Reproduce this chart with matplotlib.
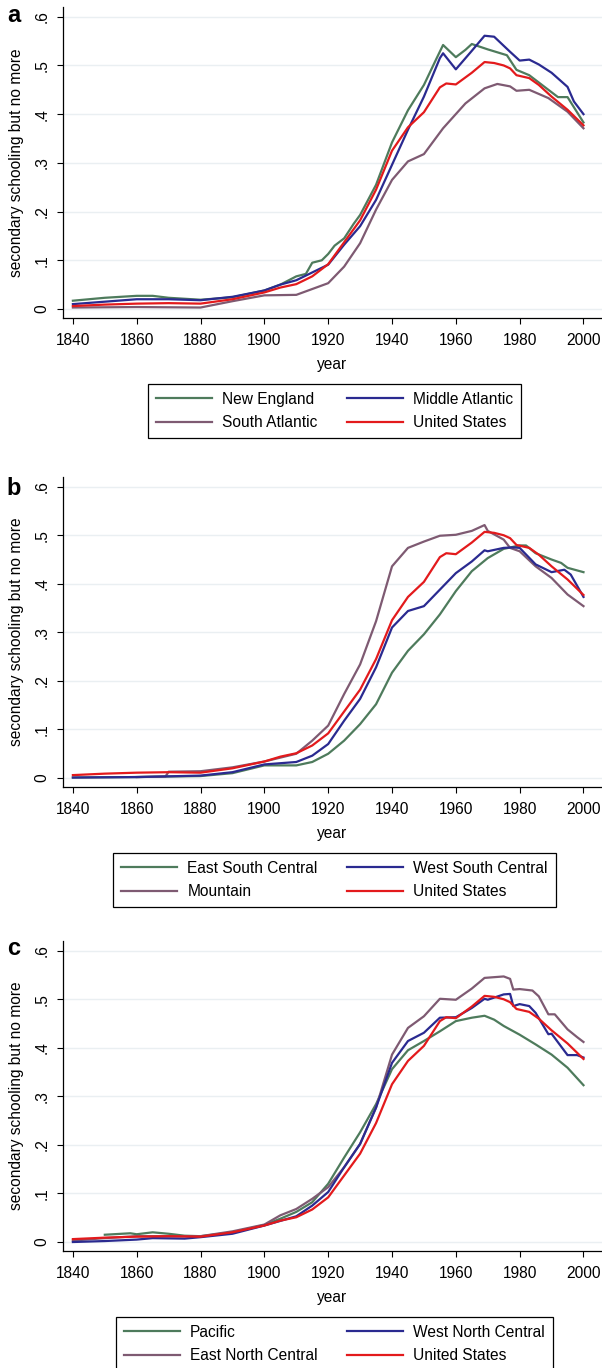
import matplotlib.pyplot as plt

plt.rcParams['font.family'] = ['Liberation Sans', 'DejaVu Sans']

# Colours of the four lines in every panel
green = '#4e7b5c'
blue = '#2a2a90'
purple = '#7e5a72'
red = '#e31a1c'

# United States (shown in all three panels)
us_years = [1840, 1850, 1860, 1870, 1880, 1890, 1900, 1905, 1910, 1915, 1920, 1925, 1930, 1935,
            1940, 1945, 1950, 1955, 1957, 1960, 1965, 1969, 1972, 1975, 1977, 1979, 1983, 1986,
            1990, 1995, 2000]
us_vals = [0.006, 0.009, 0.011, 0.012, 0.011, 0.020, 0.034, 0.044, 0.051, 0.067, 0.092, 0.137,
           0.182, 0.245, 0.325, 0.373, 0.404, 0.455, 0.463, 0.461, 0.485, 0.507, 0.505, 0.500,
           0.494, 0.480, 0.474, 0.460, 0.436, 0.409, 0.377]

# Panel a
ne_years = [1840, 1850, 1860, 1865, 1870, 1880, 1890, 1900, 1905, 1910, 1913, 1915, 1918, 1920,
            1922, 1925, 1928, 1930, 1935, 1940, 1945, 1950, 1954, 1956, 1960, 1963, 1965, 1970,
            1976, 1979, 1983, 1985, 1989, 1992, 1995, 2000]
ne_vals = [0.017, 0.023, 0.027, 0.027, 0.023, 0.019, 0.024, 0.038, 0.050, 0.067, 0.072, 0.095,
           0.100, 0.113, 0.130, 0.145, 0.175, 0.193, 0.255, 0.342, 0.408, 0.460, 0.515, 0.542,
           0.517, 0.532, 0.544, 0.533, 0.521, 0.491, 0.480, 0.470, 0.450, 0.435, 0.435, 0.383]

ma_years = [1840, 1860, 1870, 1880, 1890, 1900, 1905, 1910, 1915, 1920, 1925, 1930, 1935, 1940,
            1945, 1950, 1955, 1956, 1960, 1965, 1969, 1972, 1977, 1980, 1983, 1986, 1990, 1995,
            1997, 2000]
ma_vals = [0.010, 0.020, 0.020, 0.018, 0.025, 0.038, 0.050, 0.059, 0.075, 0.091, 0.132, 0.170,
           0.224, 0.296, 0.368, 0.436, 0.515, 0.525, 0.492, 0.530, 0.561, 0.559, 0.528, 0.510,
           0.512, 0.502, 0.485, 0.456, 0.426, 0.400]

sa_years = [1840, 1860, 1880, 1890, 1900, 1910, 1915, 1920, 1925, 1930, 1935, 1940, 1945, 1950,
            1956, 1963, 1969, 1973, 1977, 1979, 1983, 1989, 1995, 2000]
sa_vals = [0.003, 0.004, 0.003, 0.016, 0.028, 0.029, 0.041, 0.053, 0.087, 0.135, 0.204, 0.265,
           0.303, 0.318, 0.371, 0.422, 0.453, 0.462, 0.457, 0.448, 0.450, 0.433, 0.405, 0.371]

# Panel b
esc_years = [1840, 1860, 1880, 1890, 1900, 1910, 1915, 1920, 1925, 1930, 1935, 1940, 1945, 1950,
             1955, 1960, 1965, 1970, 1975, 1980, 1982, 1985, 1990, 1993, 1995, 2000]
esc_vals = [0.001, 0.002, 0.004, 0.010, 0.026, 0.026, 0.033, 0.050, 0.077, 0.111, 0.152, 0.217,
            0.262, 0.296, 0.337, 0.385, 0.426, 0.453, 0.472, 0.479, 0.479, 0.463, 0.450, 0.443,
            0.433, 0.424]

wsc_years = [1840, 1860, 1880, 1890, 1900, 1910, 1915, 1920, 1925, 1930, 1935, 1940, 1945, 1950,
             1955, 1960, 1965, 1969, 1970, 1975, 1978, 1980, 1985, 1990, 1994, 1996, 2000]
wsc_vals = [0.001, 0.002, 0.005, 0.012, 0.028, 0.033, 0.046, 0.070, 0.118, 0.163, 0.228, 0.310,
            0.344, 0.354, 0.388, 0.422, 0.446, 0.469, 0.467, 0.474, 0.475, 0.474, 0.440, 0.424,
            0.429, 0.419, 0.373]

mtn_years = [1860, 1869, 1870, 1880, 1890, 1900, 1910, 1915, 1920, 1925, 1930, 1935, 1940, 1945,
             1950, 1955, 1960, 1965, 1969, 1970, 1975, 1977, 1980, 1985, 1990, 1995, 2000]
mtn_vals = [0.002, 0.003, 0.013, 0.014, 0.022, 0.034, 0.050, 0.077, 0.108, 0.173, 0.234, 0.323,
            0.436, 0.474, 0.487, 0.499, 0.501, 0.509, 0.521, 0.509, 0.491, 0.474, 0.467, 0.436,
            0.412, 0.378, 0.354]

# Panel c
pac_years = [1850, 1858, 1860, 1865, 1870, 1875, 1880, 1890, 1900, 1905, 1910, 1915, 1920, 1925,
             1930, 1935, 1940, 1945, 1950, 1955, 1960, 1965, 1969, 1972, 1975, 1980, 1985, 1990,
             1995, 2000]
pac_vals = [0.015, 0.018, 0.016, 0.020, 0.017, 0.013, 0.012, 0.020, 0.035, 0.048, 0.062, 0.082,
            0.120, 0.174, 0.226, 0.284, 0.356, 0.395, 0.414, 0.434, 0.455, 0.462, 0.466, 0.458,
            0.445, 0.427, 0.407, 0.386, 0.359, 0.323]

wnc_years = [1840, 1850, 1860, 1865, 1875, 1880, 1890, 1900, 1910, 1915, 1920, 1925, 1930, 1935,
             1940, 1945, 1950, 1955, 1960, 1965, 1969, 1970, 1975, 1977, 1978, 1980, 1983, 1985,
             1989, 1990, 1995, 1998, 2000]
wnc_vals = [0.000, 0.002, 0.005, 0.008, 0.007, 0.010, 0.017, 0.034, 0.053, 0.075, 0.103, 0.154,
            0.202, 0.277, 0.369, 0.414, 0.431, 0.462, 0.463, 0.482, 0.501, 0.499, 0.510, 0.511,
            0.486, 0.490, 0.486, 0.472, 0.428, 0.429, 0.385, 0.385, 0.380]

enc_years = [1840, 1850, 1860, 1870, 1880, 1890, 1900, 1905, 1910, 1915, 1920, 1925, 1930, 1935,
             1940, 1945, 1950, 1955, 1960, 1965, 1969, 1975, 1977, 1978, 1980, 1984, 1986, 1989,
             1991, 1995, 1998, 2000]
enc_vals = [0.003, 0.008, 0.012, 0.012, 0.012, 0.022, 0.036, 0.055, 0.068, 0.089, 0.113, 0.154,
            0.202, 0.277, 0.386, 0.441, 0.465, 0.501, 0.499, 0.522, 0.544, 0.547, 0.542, 0.520,
            0.521, 0.518, 0.506, 0.469, 0.469, 0.438, 0.422, 0.412]

x_ticks = [1840, 1860, 1880, 1900, 1920, 1940, 1960, 1980, 2000]
y_ticks = [0, 0.1, 0.2, 0.3, 0.4, 0.5, 0.6]
y_ticklabels = ['0', '.1', '.2', '.3', '.4', '.5', '.6']

W, H = 602, 1368
fig = plt.figure(figsize=(W / 100, H / 100), dpi=100)

# pixel layout of each panel: axes top, axes bottom, legend top, letter baseline
panels = [
    ('a', 7, 318, 384, 22,
     [(ne_years, ne_vals, green, 'New England'), (sa_years, sa_vals, purple, 'South Atlantic'),
      (ma_years, ma_vals, blue, 'Middle Atlantic'), (us_years, us_vals, red, 'United States')]),
    ('b', 477, 787, 853, 495,
     [(esc_years, esc_vals, green, 'East South Central'), (mtn_years, mtn_vals, purple, 'Mountain'),
      (wsc_years, wsc_vals, blue, 'West South Central'), (us_years, us_vals, red, 'United States')]),
    ('c', 941, 1251, 1317, 955,
     [(pac_years, pac_vals, green, 'Pacific'), (enc_years, enc_vals, purple, 'East North Central'),
      (wnc_years, wnc_vals, blue, 'West North Central'), (us_years, us_vals, red, 'United States')]),
]

fs = 11.2
left = 63
for letter, top, bottom, leg_top, letter_y, series in panels:
    ax = fig.add_axes([left / W, 1 - bottom / H, (W - left) / W, (bottom - top) / H])
    for yrs, vals, col, name in series:
        ax.plot(yrs, vals, color=col, lw=1.6, label=name)

    ax.set_xlim(1836.9, 2005.8)
    ax.set_ylim(-0.0185, 0.62)
    ax.set_xticks(x_ticks)
    ax.set_yticks(y_ticks)
    ax.set_yticklabels(y_ticklabels, rotation=90, va='center')
    ax.tick_params(axis='both', labelsize=fs, length=4.5, width=0.8, pad=5)
    ax.tick_params(axis='x', pad=6)
    for y in y_ticks:
        ax.axhline(y, color='#eaeff2', lw=1, zorder=0)
    ax.spines['top'].set_visible(False)
    ax.spines['right'].set_visible(False)
    ax.spines['left'].set_linewidth(0.9)
    ax.spines['bottom'].set_linewidth(0.9)

    ax.set_xlabel('year', fontsize=fs, labelpad=7)
    ax.set_ylabel('secondary schooling but no more', fontsize=fs)
    ax.yaxis.set_label_coords((24 - left) / (W - left), 0.5)

    fig.text(14 / W, 1 - letter_y / H, letter, fontsize=17, fontweight='bold',
             ha='center', va='baseline')

    leg = ax.legend(loc='upper center', bbox_to_anchor=(334.5 / W, 1 - leg_top / H),
                    bbox_transform=fig.transFigure, ncol=2, fontsize=fs,
                    frameon=True, fancybox=False, edgecolor='black', framealpha=1,
                    handlelength=3.6, handletextpad=0.65, columnspacing=1.9,
                    labelspacing=0.55, borderpad=0.5, borderaxespad=0)
    leg.get_frame().set_linewidth(0.9)

plt.savefig('out.png', dpi=100)
